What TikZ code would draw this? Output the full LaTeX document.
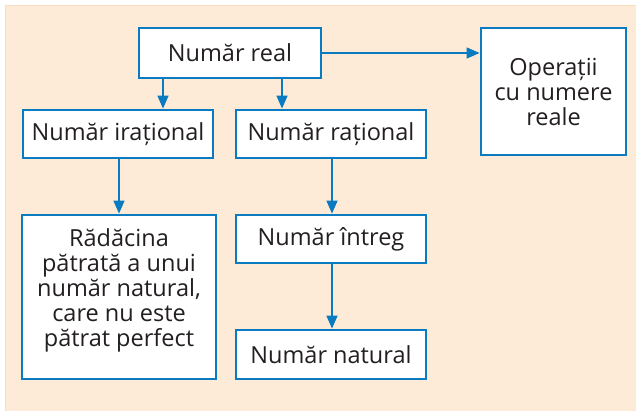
\documentclass[tikz,border=0pt]{standalone}
\usepackage{fontspec}
\setmainfont{Open Sans}
\usetikzlibrary{arrows.meta}
\definecolor{bgc}{HTML}{FDEBD8}
\definecolor{bgl}{HTML}{FADCC0}
\definecolor{blu}{HTML}{0B7BC1}
\definecolor{txt}{HTML}{231F20}
\tikzset{
  box/.style={draw=blu, line width=2.8pt, fill=white, text=txt, font=\fontsize{23.5}{25}\selectfont, align=center, inner sep=0pt},
  lbl/.style={text=txt, font=\fontsize{23.5}{25}\selectfont, align=center, inner sep=0pt},
  conn/.style={draw=blu, line width=1.4pt, -{Triangle[length=13pt,width=11pt]}}
}
\begin{document}
\begin{tikzpicture}[x=1pt,y=-1pt]
\useasboundingbox (0,0) rectangle (636,411);
\fill[white] (0,0) rectangle (636,411);
\fill[bgc] (5,5) rectangle (636,411);
\draw[bgl, line width=1pt] (5.5,411) -- (5.5,5.5) -- (636,5.5);
\node[box, minimum width=182pt, minimum height=50pt] (real) at (230,53) {Număr real};
\node[box, minimum width=145pt, minimum height=127pt] (op) at (553.5,91.5) {Operații\\cu numere\\reale};
\node[box, minimum width=190pt, minimum height=48pt] (irat) at (118,134) {Număr irațional};
\node[box, minimum width=190pt, minimum height=48pt] (rat) at (331,134) {Număr rațional};
\node[box, minimum width=194pt, minimum height=164pt] (rad) at (119,297) {};
\node[lbl] (radt) at (119,290) {Rădăcina\\pătrată a unui\\număr natural,\\care nu este\\pătrat perfect};
\node[box, minimum width=190pt, minimum height=48pt] (intr) at (331,239) {Număr întreg};
\node[box, minimum width=190pt, minimum height=49pt] (nat) at (331,354.5) {Număr natural};
\draw[conn] (real.south -| 163,0) -- (irat.north -| 163,0);
\draw[conn] (real.south -| 282,0) -- (rat.north -| 282,0);
\draw[conn] (real.east) -- (op.west |- real.east);
\draw[conn] (irat.south -| 119,0) -- (rad.north -| 119,0);
\draw[conn] (rat.south -| 332,0) -- (intr.north -| 332,0);
\draw[conn] (intr.south -| 332,0) -- (nat.north -| 332,0);
\end{tikzpicture}
\end{document}
